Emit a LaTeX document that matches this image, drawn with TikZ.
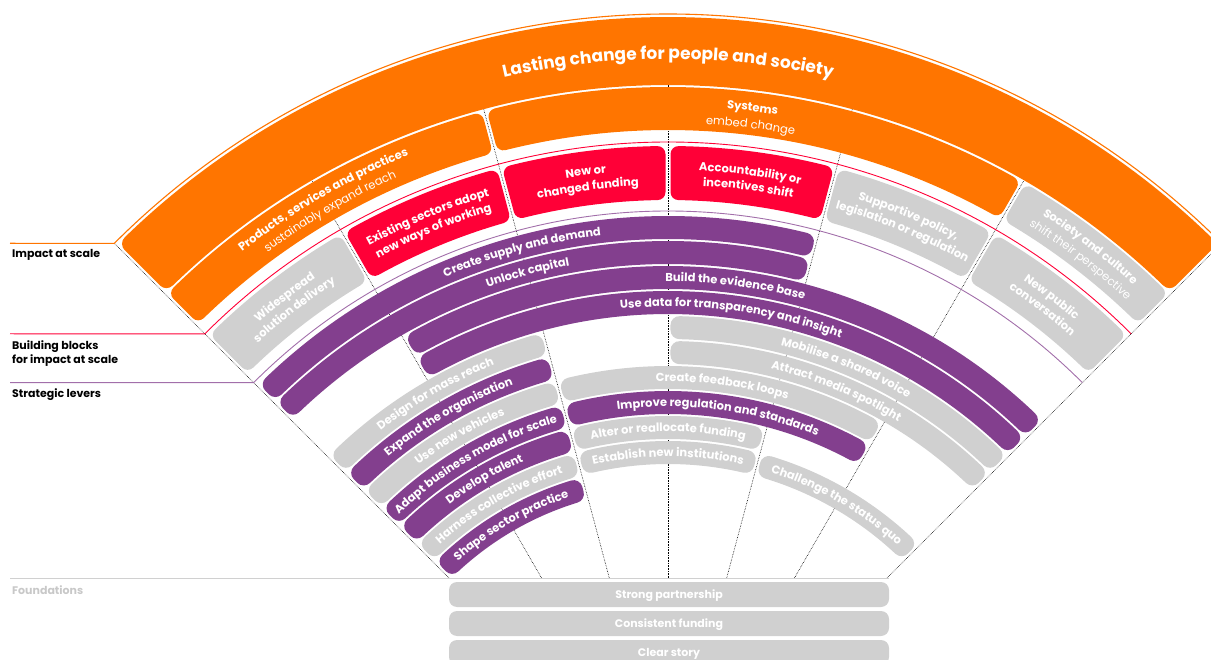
\documentclass[tikz,border=0pt]{standalone}
\usepackage{fontspec}
\setmainfont{Poppins}
\usetikzlibrary{decorations.text}
\definecolor{org}{RGB}{255,117,0}
\definecolor{rd}{RGB}{255,0,55}
\definecolor{pur}{RGB}{131,63,142}
\definecolor{gry}{RGB}{208,208,208}
\definecolor{lbl}{RGB}{200,200,200}
\newcommand\txT{\fontsize{17}{20}\selectfont\bfseries\color{white}}
\newcommand\txB{\fontsize{11.5}{14}\selectfont\bfseries\color{white}}
\newcommand\txR{\fontsize{11.5}{14}\selectfont\mdseries\color{white}}
\newcommand\txL{\fontsize{11.5}{14}\selectfont\bfseries\color{white}}
% rounded annular sector: colour, r_in, r_out, angle left, angle right, corner radius
\newcommand\band[6]{%
 \pgfmathsetmacro\bRi{#2+#6}%
 \pgfmathsetmacro\bRo{#3-#6}%
 \pgfmathsetmacro\bDi{asin((#6+2.5)/\bRi)}%
 \pgfmathsetmacro\bDo{asin((#6+2.5)/\bRo)}%
 \pgfmathsetmacro\bLW{2*#6}%
 \pgfmathsetmacro\bAa{#4-\bDo}\pgfmathsetmacro\bAb{#5+\bDo}%
 \pgfmathsetmacro\bAc{#5+\bDi}\pgfmathsetmacro\bAd{#4-\bDi}%
 \filldraw[#1, line width=\bLW pt, line join=round] (\bAa:\bRo) arc[start angle=\bAa, end angle=\bAb, radius=\bRo] -- (\bAc:\bRi) arc[start angle=\bAc, end angle=\bAd, radius=\bRi] -- cycle;
}
% text on an arc: radius, middle angle, format, text
\newcommand\atext[4]{%
 \path[decorate, decoration={text along path, text align=center, text={|#3|#4}}] (#2+50:#1) arc[start angle=#2+50, end angle=#2-50, radius=#1];
}
% lever band: colour, index, angle left, angle right, text
\newcommand\lev[5]{%
 \pgfmathsetmacro\lRo{581-25*#2}\pgfmathsetmacro\lRi{\lRo-23}%
 \pgfmathsetmacro\lRb{\lRi+7.5}\pgfmathsetmacro\lMid{(#3+#4)/2}%
 \band{#1}{\lRi}{\lRo}{#3}{#4}{9}%
 \atext{\lRb}{\lMid}{\txL}{#5}%
}
\tikzset{
 dotline/.style={black, densely dotted, line width=0.6pt},
 lab/.style={font=\fontsize{11}{13}\selectfont\bfseries, inner sep=0pt, anchor=base west},
 ftext/.style={font=\fontsize{11}{13}\selectfont\bfseries, text=white, inner sep=0pt, anchor=base},
}
\begin{document}
\begin{tikzpicture}[x=1pt,y=1pt]
\useasboundingbox (0,0) rectangle (1211,-660);
% left labels
\node[lab] (impact) at (12,-258) {Impact at scale};
\node[lab] (bb1) at (12,-350) {Building blocks};
\node[lab] (bb2) at (12,-364) {for impact at scale};
\node[lab] (sl) at (12,-398) {Strategic levers};
\node[lab, text=lbl] (fd) at (12,-594) {Foundations};
\begin{scope}[shift={(668,-797)}]
 % radial dotted lines
 \foreach \a in {120,105,90,75,60} \draw[dotline] ({219*cos(\a)/sin(\a)},219) -- (\a:712);
 \foreach \a in {135,45} \draw[dotline] (\a:309.7) -- (\a:783);
 % leader lines and thin arcs
 \draw[org, line width=1.1pt] (-658,553.7) -- (135:783) arc[start angle=135, end angle=45, radius=783];
 \draw[rd, line width=0.9pt] (-658,463.2) -- (135:655) arc[start angle=135, end angle=45, radius=655];
 \draw[pur!75, line width=0.9pt] (-658,414.4) -- (135:586) arc[start angle=135, end angle=45, radius=586];
 \draw[gry, line width=1pt] (-658,219) -- (221,219);
 % outer band
 \band{org}{712}{780}{135}{45}{9}
 \atext{738}{90}{\txT}{Lasting change for people and society}
 % ring 2
 \band{org}{667}{710}{135}{105}{8}
 \band{org}{667}{710}{105}{60}{8}
 \band{gry}{667}{710}{60}{45}{8}
 \atext{692}{120}{\txB}{Products, services and practices}
 \atext{676}{120}{\txR}{sustainably expand reach}
 \atext{691}{83}{\txB}{Systems}
 \atext{674}{83}{\txR}{embed change}
 \atext{692}{52.5}{\txB}{Society and culture}
 \atext{676}{52.5}{\txR}{shift their perspective}
 % ring 3 building blocks
 \band{gry}{597}{651}{135}{120}{8}
 \band{rd}{597}{651}{120}{105}{8}
 \band{rd}{597}{651}{105}{90}{8}
 \band{rd}{597}{651}{90}{75}{8}
 \band{gry}{597}{651}{75}{60}{8}
 \band{gry}{597}{651}{60}{45}{8}
 \atext{627}{127.5}{\txB}{Widespread}
 \atext{612}{127.5}{\txB}{solution delivery}
 \atext{627}{112.5}{\txB}{Existing sectors adopt}
 \atext{612}{112.5}{\txB}{new ways of working}
 \atext{627}{97.5}{\txB}{New or}
 \atext{612}{97.5}{\txB}{changed funding}
 \atext{627}{82.5}{\txB}{Accountability or}
 \atext{612}{82.5}{\txB}{incentives shift}
 \atext{627}{67.5}{\txB}{Supportive policy,}
 \atext{612}{67.5}{\txB}{legislation or regulation}
 \atext{627}{52.5}{\txB}{New public}
 \atext{612}{52.5}{\txB}{conversation}
 % strategic levers
 \lev{pur}{0}{135}{75}{Create supply and demand}
 \lev{pur}{1}{135}{75}{Unlock capital}
 \lev{pur}{2}{120}{45}{Build the evidence base}
 \lev{pur}{3}{120}{45}{Use data for transparency and insight}
 \lev{gry}{4}{90}{45}{Mobilise a shared voice}
 \lev{gry}{5}{90}{45}{Attract media spotlight}
 \lev{gry}{6}{105}{60}{Create feedback loops}
 \lev{pur}{7}{105}{60}{Improve regulation and standards}
 \lev{gry}{8}{105}{75}{Alter or reallocate funding}
 \lev{gry}{9}{105}{75}{Establish new institutions}
 \lev{gry}{9}{75}{45}{Challenge the status quo}
 \lev{gry}{4}{135}{105}{Design for mass reach}
 \lev{pur}{5}{135}{105}{Expand the organisation}
 \lev{gry}{6}{135}{105}{Use new vehicles}
 \lev{pur}{7}{135}{105}{Adapt business model for scale}
 \lev{pur}{8}{135}{105}{Develop talent}
 \lev{gry}{9}{135}{105}{Harness collective effort}
 \lev{pur}{10}{135}{105}{Shape sector practice}
\end{scope}
% foundations
\foreach \y/\t/\n in {582/Strong partnership/fa, 611/Consistent funding/fb, 640/Clear story/fc} {
 \fill[gry, rounded corners=8pt] (449,-\y) rectangle (889,-\y-25);
 \node[ftext] (\n) at (669,-\y-16.5) {\t};
}
\end{tikzpicture}
\end{document}
